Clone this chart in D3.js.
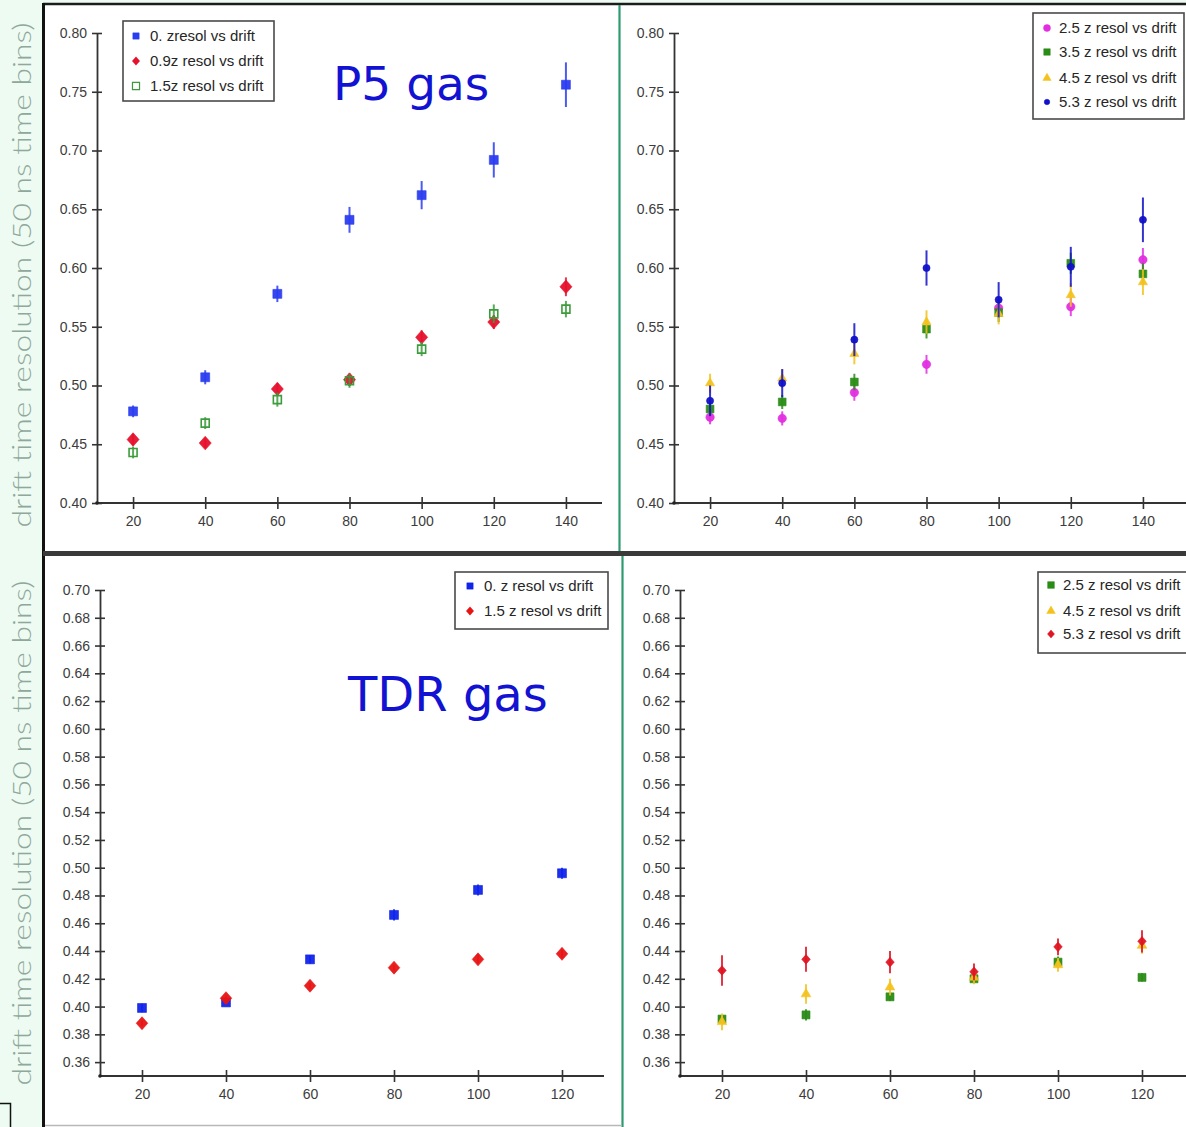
<!DOCTYPE html>
<html>
<head>
<meta charset="utf-8">
<script src="https://cdn.jsdelivr.net/npm/d3@7"></script>
<style>
  html, body { margin: 0; padding: 0; background: #edfbf3; }
  svg { display: block; }
  .tick text { font-family: "Liberation Sans", Arial, sans-serif; font-size: 14px; fill: #3c3c3c; }
  .legend text { font-family: "Liberation Sans", Arial, sans-serif; font-size: 15px; fill: #262626; }
</style>
</head>
<body>
<svg id="chart" width="1186" height="1127"></svg>
<script>
// ---- drift distances and tick labels ----
const driftP5 = [20, 40, 60, 80, 100, 120, 140];
const driftTDR = [20, 40, 60, 80, 100, 120];
const yTicksP5 = [0.40, 0.45, 0.50, 0.55, 0.60, 0.65, 0.70, 0.75, 0.80];
const yTicksTDR = [0.36, 0.38, 0.40, 0.42, 0.44, 0.46, 0.48, 0.50, 0.52, 0.54, 0.56, 0.58, 0.60, 0.62, 0.64, 0.66, 0.68, 0.70];

// ---- P5 gas, low z ----
const p5z00 = [0.478, 0.507, 0.578, 0.641, 0.662, 0.692, 0.756];
const p5z00Err = [0.005, 0.006, 0.007, 0.011, 0.012, 0.015, 0.019];
const p5z09 = [0.454, 0.451, 0.497, 0.505, 0.541, 0.554, 0.584];
const p5z09Err = [0.005, 0.004, 0.005, 0.005, 0.006, 0.006, 0.008];
const p5z15 = [0.443, 0.468, 0.488, 0.504, 0.531, 0.561, 0.565];
const p5z15Err = [0.005, 0.005, 0.006, 0.006, 0.006, 0.008, 0.007];

// ---- P5 gas, high z ----
const p5z25 = [0.473, 0.472, 0.494, 0.518, 0.566, 0.567, 0.607];
const p5z25Err = [0.006, 0.006, 0.007, 0.008, 0.007, 0.008, 0.010];
const p5z35 = [0.480, 0.486, 0.503, 0.548, 0.562, 0.604, 0.595];
const p5z35Err = [0.006, 0.006, 0.007, 0.008, 0.008, 0.009, 0.009];
const p5z45 = [0.502, 0.506, 0.527, 0.554, 0.561, 0.577, 0.588];
const p5z45Err = [0.008, 0.008, 0.009, 0.010, 0.009, 0.010, 0.011];
const p5z53 = [0.487, 0.502, 0.539, 0.600, 0.573, 0.601, 0.641];
const p5z53Err = [0.013, 0.012, 0.014, 0.015, 0.015, 0.017, 0.019];

// ---- TDR gas, low z ----
const tdrz00 = [0.399, 0.403, 0.434, 0.466, 0.484, 0.496];
const tdrz00Err = [0.003, 0.002, 0.003, 0.004, 0.004, 0.004];
const tdrz15 = [0.388, 0.406, 0.415, 0.428, 0.434, 0.438];
const tdrz15Err = [0.002, 0.002, 0.002, 0.002, 0.003, 0.003];

// ---- TDR gas, high z ----
const tdrz25 = [0.391, 0.394, 0.407, 0.420, 0.432, 0.421];
const tdrz25Err = [0.003, 0.004, 0.003, 0.003, 0.004, 0.003];
const tdrz45 = [0.389, 0.409, 0.414, 0.421, 0.430, 0.444];
const tdrz45Err = [0.006, 0.007, 0.006, 0.005, 0.005, 0.006];
const tdrz53 = [0.426, 0.434, 0.432, 0.425, 0.443, 0.447];
const tdrz53Err = [0.011, 0.009, 0.008, 0.006, 0.006, 0.008];

const yTitle = "drift time resolution (50 ns time bins)";

// a diamond that is nearly as wide as it is tall
const symbolRhomb = {
  draw(ctx, size) {
    const h = Math.sqrt(size) * 0.62, w = Math.sqrt(size) * 0.55;
    ctx.moveTo(0, -h); ctx.lineTo(w, 0); ctx.lineTo(0, h); ctx.lineTo(-w, 0); ctx.closePath();
  }
};

const svg = d3.select("#chart");

// ---- frame: panel backgrounds and separators ----
svg.append("rect").attr("x", 45).attr("y", 5).attr("width", 1141).attr("height", 1122).attr("fill", "#ffffff");
svg.append("line").attr("x1", 43).attr("x2", 1186).attr("y1", 4).attr("y2", 4).attr("stroke", "#1c1c1c").attr("stroke-width", 2.5);
svg.append("line").attr("x1", 43.5).attr("x2", 43.5).attr("y1", 3).attr("y2", 1127).attr("stroke", "#111").attr("stroke-width", 3);
svg.append("line").attr("x1", 43).attr("x2", 1186).attr("y1", 553.5).attr("y2", 553.5).attr("stroke", "#3a3a3a").attr("stroke-width", 5);
svg.append("line").attr("x1", 619.5).attr("x2", 619.5).attr("y1", 5).attr("y2", 551).attr("stroke", "#2f9a70").attr("stroke-width", 2.2);
svg.append("line").attr("x1", 622.5).attr("x2", 622.5).attr("y1", 556).attr("y2", 1127).attr("stroke", "#2f9a70").attr("stroke-width", 2.2);
svg.append("line").attr("x1", 45).attr("x2", 622).attr("y1", 1125.5).attr("y2", 1125.5).attr("stroke", "#b8b8b8").attr("stroke-width", 1.5);
// small bracket in the lower left corner
svg.append("path").attr("d", "M0,1103.5 H10.5 V1127").attr("fill", "none").attr("stroke", "#111").attr("stroke-width", 1.5);

// ---- rotated y titles ----
[[22, 275], [22, 833]].forEach(([cx, cy]) => {
  svg.append("text")
    .attr("transform", `translate(${cx + 9},${cy}) rotate(-90)`)
    .attr("text-anchor", "middle")
    .attr("textLength", 505).attr("lengthAdjust", "spacingAndGlyphs")
    .style("font-family", "Lato, 'Open Sans', 'DejaVu Sans', sans-serif")
    .style("font-weight", 300)
    .style("font-size", "25px")
    .style("fill", "#8fa89a")
    .text(yTitle);
});

// ---- panels ----
const panels = [
  {
    xDomain: [10, 150], xRange: [97, 602], xLineEnd: 602,
    yDomain: [0.40, 0.80], yRange: [503, 33],
    xTicks: driftP5, yTicks: yTicksP5, drift: driftP5,
    series: [
      { name: "0. zresol vs drift", v: p5z00, e: p5z00Err, color: "#2b3df0", sym: d3.symbolSquare, size: 80, open: false, lsize: 40 },
      { name: "0.9z resol vs drift", v: p5z09, e: p5z09Err, color: "#e6102c", sym: symbolRhomb, size: 120, open: false, lsize: 45 },
      { name: "1.5z resol vs drift", v: p5z15, e: p5z15Err, color: "#3c9c3c", sym: d3.symbolSquare, size: 64, open: true, lsize: 50 }
    ],
    legend: { x: 123, y: 21, w: 151, h: 80, mx: 136, tx: 150, rows: [36, 61, 86] }
  },
  {
    xDomain: [10, 150], xRange: [674, 1179], xLineEnd: 1186,
    yDomain: [0.40, 0.80], yRange: [503, 33],
    xTicks: driftP5, yTicks: yTicksP5, drift: driftP5,
    series: [
      { name: "2.5 z resol vs drift", v: p5z25, e: p5z25Err, color: "#e22ee0", sym: d3.symbolCircle, size: 55, open: false, lsize: 38 },
      { name: "3.5 z resol vs drift", v: p5z35, e: p5z35Err, color: "#2a8c16", sym: d3.symbolSquare, size: 60, open: false, lsize: 42 },
      { name: "4.5 z resol vs drift", v: p5z45, e: p5z45Err, color: "#f3c21e", sym: d3.symbolTriangle, size: 36, open: false, lsize: 30 },
      { name: "5.3 z resol vs drift", v: p5z53, e: p5z53Err, color: "#1010c8", sym: d3.symbolCircle, size: 40, open: false, lsize: 24 }
    ],
    legend: { x: 1033, y: 13, w: 151, h: 106, mx: 1047, tx: 1059, rows: [28, 52, 78, 102] }
  },
  {
    xDomain: [10, 130], xRange: [100, 604], xLineEnd: 604,
    yDomain: [0.35, 0.70], yRange: [1076, 590],
    xTicks: driftTDR, yTicks: yTicksTDR, drift: driftTDR,
    series: [
      { name: "0. z resol vs drift", v: tdrz00, e: tdrz00Err, color: "#1024ea", sym: d3.symbolSquare, size: 80, open: false, lsize: 40 },
      { name: "1.5 z resol vs drift", v: tdrz15, e: tdrz15Err, color: "#e81414", sym: symbolRhomb, size: 110, open: false, lsize: 45 }
    ],
    legend: { x: 455, y: 572, w: 153, h: 57, mx: 470, tx: 484, rows: [586, 611] }
  },
  {
    xDomain: [10, 130], xRange: [680, 1184], xLineEnd: 1186,
    yDomain: [0.35, 0.70], yRange: [1076, 590],
    xTicks: driftTDR, yTicks: yTicksTDR, drift: driftTDR,
    series: [
      { name: "2.5 z resol vs drift", v: tdrz25, e: tdrz25Err, color: "#2a8c16", sym: d3.symbolSquare, size: 64, open: false, lsize: 45 },
      { name: "4.5 z resol vs drift", v: tdrz45, e: tdrz45Err, color: "#f3c21e", sym: d3.symbolTriangle, size: 40, open: false, lsize: 32 },
      { name: "5.3 z resol vs drift", v: tdrz53, e: tdrz53Err, color: "#e01422", sym: symbolRhomb, size: 60, open: false, lsize: 40 }
    ],
    legend: { x: 1038, y: 572, w: 152, h: 81, mx: 1051, tx: 1063, rows: [585, 611, 634] }
  }
];

panels.forEach(p => {
  const x = d3.scaleLinear().domain(p.xDomain).range(p.xRange);
  const y = d3.scaleLinear().domain(p.yDomain).range(p.yRange);
  const g = svg.append("g");
  const x0 = p.xRange[0];
  const yBase = p.yRange[0];

  // x axis
  const gx = g.append("g").attr("transform", `translate(0,${yBase})`)
    .call(d3.axisBottom(x).tickValues(p.xTicks).tickFormat(d3.format("d")).tickSize(6).tickSizeOuter(0).tickPadding(7));
  gx.select(".domain").remove();
  gx.append("line").attr("x1", x0).attr("x2", p.xLineEnd).attr("y1", 0).attr("y2", 0).attr("stroke", "#333").attr("stroke-width", 2);
  gx.selectAll(".tick line").attr("y1", -6).attr("y2", 6).attr("stroke", "#333").attr("stroke-width", 1.6);

  // y axis
  const gy = g.append("g").attr("transform", `translate(${x0},0)`)
    .call(d3.axisLeft(y).tickValues(p.yTicks).tickFormat(d3.format(".2f")).tickSize(5).tickSizeOuter(0).tickPadding(5));
  gy.select(".domain").attr("stroke", "#333").attr("stroke-width", 1.8);
  gy.selectAll(".tick line").attr("x1", -5).attr("x2", 5).attr("stroke", "#333").attr("stroke-width", 1.6);
  g.append("circle").attr("cx", x0).attr("cy", yBase).attr("r", 1.8).attr("fill", "#222");

  // error bars, then markers
  p.series.forEach(s => {
    const pts = p.drift.map((d, i) => ({ d, v: s.v[i], e: s.e[i] }));
    g.append("g").selectAll("line").data(pts).join("line")
      .attr("x1", d => x(d.d)).attr("x2", d => x(d.d))
      .attr("y1", d => y(d.v - d.e)).attr("y2", d => y(d.v + d.e))
      .attr("stroke", s.color).attr("stroke-width", 2).attr("stroke-opacity", 0.85);
    const sym = d3.symbol().type(s.sym).size(s.size);
    g.append("g").selectAll("path").data(pts).join("path")
      .attr("transform", d => `translate(${x(d.d)},${y(d.v)})`)
      .attr("d", sym)
      .attr("fill", s.open ? "none" : s.color)
      .attr("stroke", s.color)
      .attr("stroke-width", s.open ? 1.6 : 0.6)
      .attr("fill-opacity", 0.95);
  });

  // legend
  const L = p.legend;
  const lg = g.append("g").attr("class", "legend");
  lg.append("rect").attr("x", L.x).attr("y", L.y).attr("width", L.w).attr("height", L.h)
    .attr("fill", "#fff").attr("stroke", "#4a4a4a").attr("stroke-width", 1.6);
  p.series.forEach((s, i) => {
    lg.append("path")
      .attr("transform", `translate(${L.mx},${L.rows[i]})`)
      .attr("d", d3.symbol().type(s.sym).size(s.lsize))
      .attr("fill", s.open ? "none" : s.color)
      .attr("stroke", s.color).attr("stroke-width", s.open ? 1.2 : 0.5);
    lg.append("text").attr("x", L.tx).attr("y", L.rows[i]).attr("dy", "0.36em").text(s.name);
  });
});

// ---- gas labels ----
const gasLabels = [
  { text: "P5 gas", x: 333, y: 100, size: 47 },
  { text: "TDR gas", x: 348, y: 711, size: 48 }
];
svg.selectAll("text.gas").data(gasLabels).join("text")
  .attr("class", "gas")
  .attr("x", d => d.x).attr("y", d => d.y)
  .style("font-family", "'DejaVu Sans', Verdana, sans-serif")
  .style("font-size", d => d.size + "px")
  .style("fill", "#1212d2")
  .text(d => d.text);
</script>
</body>
</html>
